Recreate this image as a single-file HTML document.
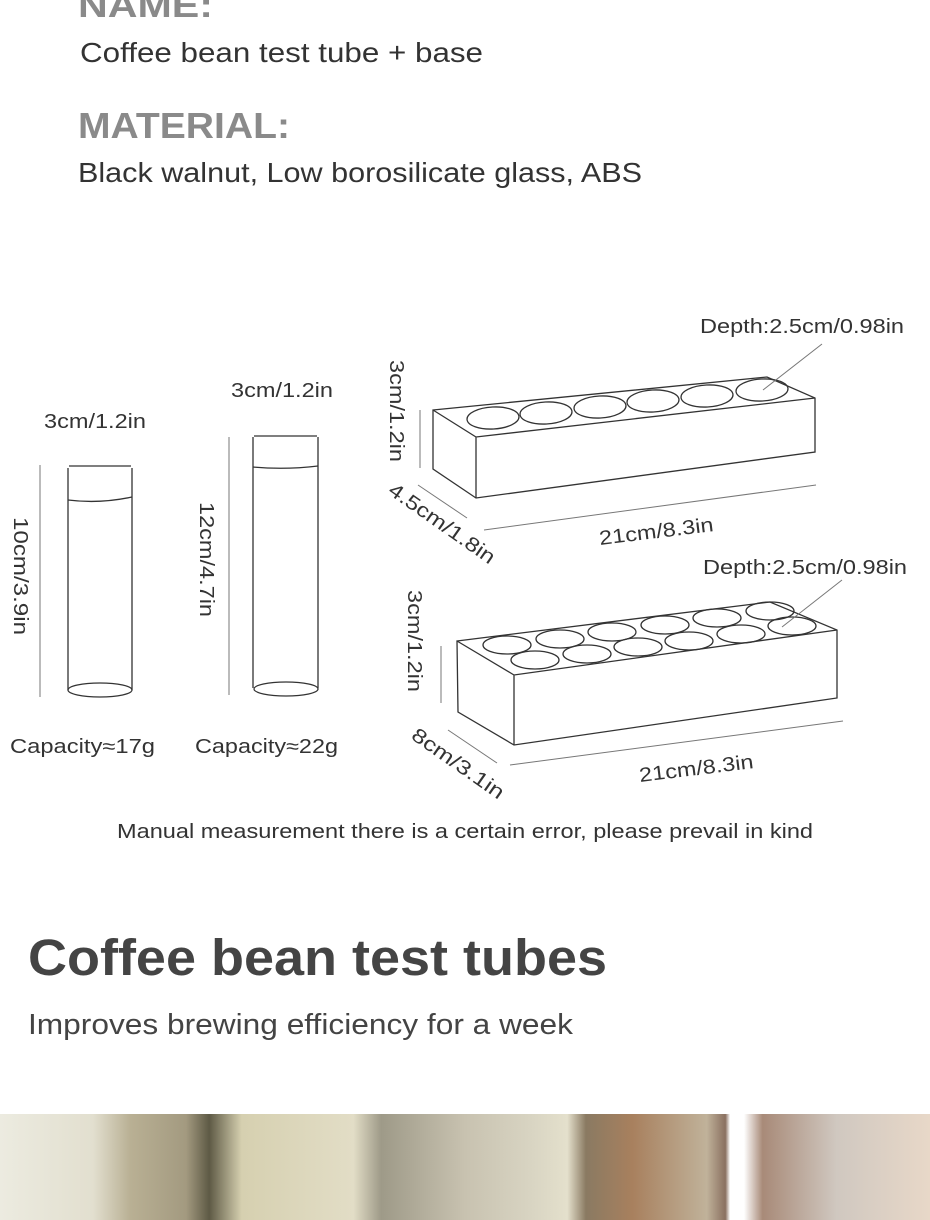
<!DOCTYPE html>
<html><head><meta charset="utf-8"><style>
html,body{margin:0;padding:0;background:#fff;width:930px;height:1220px;overflow:hidden}
svg{display:block}
text{font-family:"Liberation Sans","DejaVu Sans",sans-serif}
</style></head><body>
<svg width="930" height="1220" viewBox="0 0 930 1220" xmlns="http://www.w3.org/2000/svg">
<defs>
<linearGradient id="ph" x1="0" x2="1" y1="0" y2="0">
<stop offset="0" stop-color="#ecebe0"/>
<stop offset="0.1" stop-color="#e2dfcf"/>
<stop offset="0.14" stop-color="#b9b094"/>
<stop offset="0.2" stop-color="#a39a80"/>
<stop offset="0.225" stop-color="#5e5a45"/>
<stop offset="0.26" stop-color="#d6d0b0"/>
<stop offset="0.38" stop-color="#e2ddc6"/>
<stop offset="0.41" stop-color="#9e9a88"/>
<stop offset="0.5" stop-color="#c8c2b0"/>
<stop offset="0.57" stop-color="#d8d4c2"/>
<stop offset="0.61" stop-color="#e4e0cc"/>
<stop offset="0.63" stop-color="#8a7a62"/>
<stop offset="0.68" stop-color="#a8805e"/>
<stop offset="0.76" stop-color="#c0b29a"/>
<stop offset="0.78" stop-color="#8a7060"/>
<stop offset="0.785" stop-color="#ffffff"/>
<stop offset="0.8" stop-color="#ffffff"/>
<stop offset="0.82" stop-color="#a88a78"/>
<stop offset="0.9" stop-color="#d0c8c0"/>
<stop offset="1" stop-color="#e8d8c8"/>
</linearGradient>
</defs>
<g fill="#8a8a8a" font-weight="bold">
<text x="78" y="17" font-size="34" textLength="135" lengthAdjust="spacingAndGlyphs">NAME:</text>
<text x="78" y="138" font-size="36" textLength="212" lengthAdjust="spacingAndGlyphs">MATERIAL:</text>
</g>
<g fill="#333" font-size="28">
<text x="80" y="62" textLength="403" lengthAdjust="spacingAndGlyphs">Coffee bean test tube + base</text>
<text x="78" y="182" textLength="564" lengthAdjust="spacingAndGlyphs">Black walnut, Low borosilicate glass, ABS</text>
</g>

<g fill="none" stroke="#333" stroke-width="1.3">
<path d="M68,468 L68,690 M132,468 L132,690"/>
<line x1="69" y1="466" x2="131" y2="466"/>
<path d="M68,500 Q100,504 132,497"/>
<ellipse cx="100" cy="690" rx="32" ry="7"/>
<path d="M253,437 L253,688 M318,437 L318,688"/>
<line x1="254" y1="436" x2="317" y2="436"/>
<path d="M253,467 Q285,470 318,466"/>
<ellipse cx="286" cy="689" rx="32" ry="7"/>
</g>
<g stroke="#777" stroke-width="1">
<line x1="40" y1="465" x2="40" y2="697"/>
<line x1="229" y1="437" x2="229" y2="695"/>
</g>

<g fill="none" stroke="#333" stroke-width="1.3">
<path d="M433,410 L767,377 L815,398 L815,452 L476,498 L433,469 Z"/>
<path d="M433,410 L476,437 L815,398 M476,437 L476,498"/>
<ellipse cx="493" cy="418" rx="26" ry="11" transform="rotate(-3 493 418)"/>
<ellipse cx="546" cy="413" rx="26" ry="11" transform="rotate(-3 546 413)"/>
<ellipse cx="600" cy="407" rx="26" ry="11" transform="rotate(-3 600 407)"/>
<ellipse cx="653" cy="401" rx="26" ry="11" transform="rotate(-3 653 401)"/>
<ellipse cx="707" cy="396" rx="26" ry="11" transform="rotate(-3 707 396)"/>
<ellipse cx="762" cy="390" rx="26" ry="11" transform="rotate(-3 762 390)"/>
</g>
<g stroke="#777" stroke-width="1">
<line x1="420" y1="410" x2="420" y2="468"/>
<line x1="418" y1="485" x2="467" y2="518"/>
<line x1="484" y1="530" x2="816" y2="485"/>
<line x1="822" y1="344" x2="763" y2="390"/>
</g>

<g fill="none" stroke="#333" stroke-width="1.3">
<path d="M457,641 L770,602 L837,630 L837,698 L514,745 L458,712 Z"/>
<path d="M457,641 L514,675 L837,630 M514,675 L514,745"/>
<ellipse cx="507" cy="645" rx="24" ry="9"/>
<ellipse cx="560" cy="639" rx="24" ry="9"/>
<ellipse cx="612" cy="632" rx="24" ry="9"/>
<ellipse cx="665" cy="625" rx="24" ry="9"/>
<ellipse cx="717" cy="618" rx="24" ry="9"/>
<ellipse cx="770" cy="611" rx="24" ry="9"/>
<ellipse cx="535" cy="660" rx="24" ry="9"/>
<ellipse cx="587" cy="654" rx="24" ry="9"/>
<ellipse cx="638" cy="647" rx="24" ry="9"/>
<ellipse cx="689" cy="641" rx="24" ry="9"/>
<ellipse cx="741" cy="634" rx="24" ry="9"/>
<ellipse cx="792" cy="626" rx="24" ry="9"/>
</g>
<g stroke="#777" stroke-width="1">
<line x1="441" y1="646" x2="441" y2="703"/>
<line x1="448" y1="730" x2="497" y2="763"/>
<line x1="510" y1="765" x2="843" y2="721"/>
<line x1="842" y1="580" x2="782" y2="627"/>
</g>

<g fill="#333" font-size="20">
<text x="44" y="428" textLength="102" lengthAdjust="spacingAndGlyphs">3cm/1.2in</text>
<text x="231" y="397" textLength="102" lengthAdjust="spacingAndGlyphs">3cm/1.2in</text>
<text x="10" y="753" textLength="145" lengthAdjust="spacingAndGlyphs">Capacity≈17g</text>
<text x="195" y="753" textLength="143" lengthAdjust="spacingAndGlyphs">Capacity≈22g</text>
<text x="700" y="333" textLength="204" lengthAdjust="spacingAndGlyphs">Depth:2.5cm/0.98in</text>
<text x="703" y="574" textLength="204" lengthAdjust="spacingAndGlyphs">Depth:2.5cm/0.98in</text>
<text transform="translate(14,517) rotate(90)" textLength="118" lengthAdjust="spacingAndGlyphs">10cm/3.9in</text>
<text transform="translate(200,502) rotate(90)" textLength="115" lengthAdjust="spacingAndGlyphs">12cm/4.7in</text>
<text transform="translate(390,360) rotate(90)" textLength="102" lengthAdjust="spacingAndGlyphs">3cm/1.2in</text>
<text transform="translate(408,590) rotate(90)" textLength="102" lengthAdjust="spacingAndGlyphs">3cm/1.2in</text>
<text transform="translate(387,493) rotate(35)" textLength="125" lengthAdjust="spacingAndGlyphs">4.5cm/1.8in</text>
<text transform="translate(410,738) rotate(35)" textLength="108" lengthAdjust="spacingAndGlyphs">8cm/3.1in</text>
<text transform="translate(600,545) rotate(-7)" textLength="115" lengthAdjust="spacingAndGlyphs">21cm/8.3in</text>
<text transform="translate(640,782) rotate(-7)" textLength="115" lengthAdjust="spacingAndGlyphs">21cm/8.3in</text>
<text x="117" y="838" textLength="696" lengthAdjust="spacingAndGlyphs">Manual measurement there is a certain error, please prevail in kind</text>
</g>

<text x="28" y="975" font-size="51" font-weight="bold" fill="#444" textLength="579" lengthAdjust="spacingAndGlyphs">Coffee bean test tubes</text>
<text x="28" y="1034" font-size="29" fill="#444" textLength="545" lengthAdjust="spacingAndGlyphs">Improves brewing efficiency for a week</text>

<rect x="0" y="1114" width="930" height="106" fill="url(#ph)"/>
</svg>
</body></html>
